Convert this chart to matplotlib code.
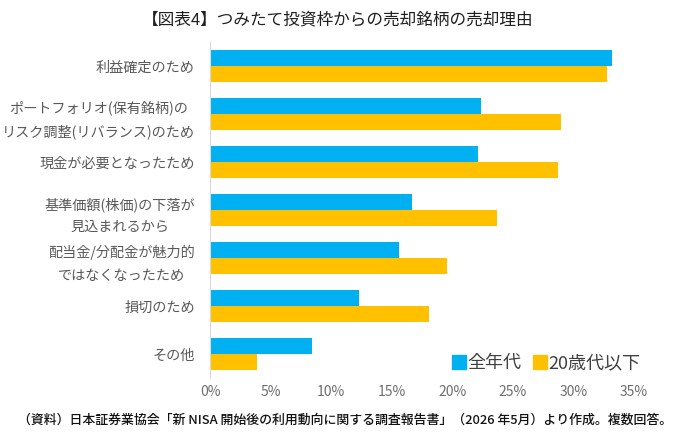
import matplotlib
matplotlib.use("Agg")
import matplotlib.pyplot as plt
import numpy as np
from matplotlib.lines import Line2D

plt.rcParams['font.family'] = ['Noto Sans CJK JP', 'DejaVu Sans']

# categories (top to bottom)
reasons = [
    "利益確定のため",
    "ポートフォリオ(保有銘柄)の\nリスク調整(リバランス)のため",
    "現金が必要となったため",
    "基準価額(株価)の下落が\n見込まれるから",
    "配当金/分配金が魅力的\nではなくなったため",
    "損切のため",
    "その他",
]
# percent values
all_ages = [33.2, 22.4, 22.1, 16.7, 15.6, 12.3, 8.4]
under_20s = [32.8, 29.0, 28.7, 23.7, 19.6, 18.1, 3.9]
series_names = ["全年代", "20歳代以下"]
xticks = [0, 5, 10, 15, 20, 25, 30, 35]

blue = "#00B0F0"
gold = "#FFC000"

fig = plt.figure(figsize=(6.8, 4.48), dpi=100)
ax = fig.add_axes([0.309, 0.156, 0.623, 0.75])

y = np.arange(len(reasons))
h = 1 / 3
ax.barh(y - h / 2, all_ages, height=h, color=blue)
ax.barh(y + h / 2, under_20s, height=h, color=gold)

ax.set_ylim(len(reasons) - 0.5, -0.5)
ax.set_xlim(0, 35)
ax.set_xticks(xticks)
ax.set_xticklabels([f"{t}%" for t in xticks], fontsize=10, color="#6e6e6e")
ax.set_yticks(y)
ax.set_yticklabels(reasons, fontsize=10.2, color="#595959", ha="right",
                   linespacing=1.75)
for lab in ax.get_yticklabels():
    lab.set_multialignment("center")
ax.tick_params(axis="y", length=0, pad=11)
ax.tick_params(axis="x", length=0, pad=5)

for s in ["top", "right", "bottom"]:
    ax.spines[s].set_visible(False)
ax.spines["left"].set_color("#D9D9D9")

handles = [
    Line2D([], [], marker="s", linestyle="none", markersize=10, color=blue),
    Line2D([], [], marker="s", linestyle="none", markersize=10, color=gold),
]
leg = ax.legend(handles, series_names, loc="lower right", bbox_to_anchor=(1.055, -0.03),
                ncol=2, frameon=False, fontsize=13, handletextpad=0.1,
                columnspacing=0.6, handlelength=0.8)
for t in leg.get_texts():
    t.set_color("#404040")

fig.text(0.496, 0.955, "【図表4】つみたて投資枠からの売却銘柄の売却理由",
         ha="center", va="center", fontsize=12, color="#202020")
fig.text(0.508, 0.062,
         "（資料）日本証券業協会「新 NISA 開始後の利用動向に関する調査報告書」（2026 年5月）より作成。複数回答。",
         ha="center", va="center", fontsize=9.3, color="#111111", fontweight="medium")

fig.savefig("out.png", dpi=100)
